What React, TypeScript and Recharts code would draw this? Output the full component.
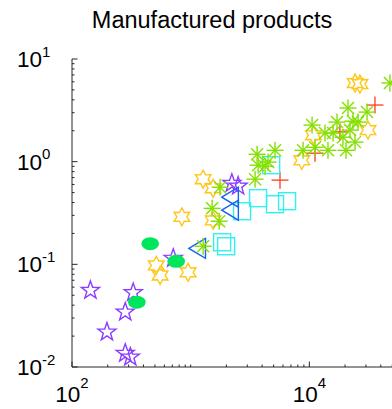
import React from "react";
import { ScatterChart, Scatter, XAxis, YAxis } from "recharts";

// ── Data (log-log) ──────────────────────────────────────────────────────────
const purpleX = [143, 328, 281, 197, 281, 310, 713, 2223, 2513];
const purpleY = [0.0557, 0.053, 0.0343, 0.0219, 0.0136, 0.0125, 0.1146, 0.616, 0.577];

const orangeX = [513, 553, 952, 843, 1273, 1546, 1546, 8630, 10820, 31200, 24300, 26700];
const orangeY = [0.0977, 0.078, 0.0836, 0.29, 0.675, 0.551, 0.268, 1.03, 1.81, 2.03, 5.83, 5.7];

const ellipseX = [456, 352, 755];
const ellipseY = [0.159, 0.0428, 0.107];

const asteriskX = [
  1274, 1517, 1738, 1770, 3491, 3630, 3700, 4236, 5140, 4490, 8850, 10550, 11180,
  13550, 14360, 15850, 17110, 19220, 20370, 21170, 22020, 23340, 25730, 24270, 30630, 47760,
];
const asteriskY = [
  0.15, 0.351, 0.263, 0.564, 0.675, 1.18, 0.924, 0.904, 1.29, 0.99, 1.29, 2.27, 1.38,
  1.9, 1.29, 1.9, 2.43, 1.73, 1.29, 3.33, 2.03, 2.48, 2.43, 1.55, 3.04, 5.84,
];

const squareX = [1841, 1990, 2711, 3700, 5140, 6490, 4770];
const squareY = [0.164, 0.15, 0.329, 0.441, 0.385, 0.412, 0.924];

const triangleX = [1135, 2148, 2148];
const triangleY = [0.143, 0.451, 0.337];

const plusX = [35740, 5660, 18100, 11170];
const plusY = [3.56, 0.661, 1.95, 1.21];

// tick positions
const xDecades = [100, 1000, 10000];
const yDecades = [0.01, 0.1, 1];
const minorSteps = [1, 2, 3, 4, 5, 6, 7, 8, 9];
const xMajor = [100, 10000];
const yMajor = [0.01, 0.1, 1, 10];

const xTicks = [...xDecades.flatMap((d) => minorSteps.map((m) => m * d)), 100000];
const yTicks = [...yDecades.flatMap((d) => minorSteps.map((m) => m * d)), 10];

const pts = (xs: number[], ys: number[]) => xs.map((x, i) => ({ x, y: ys[i] }));

// ── Styling ─────────────────────────────────────────────────────────────────
const FONT = '"Liberation Sans", Arial, Helvetica, sans-serif';
const AXIS = "#262626";
const PURPLE = "#8c3cff";
const ORANGE = "#ffc61a";
const LIME = "#84e000";
const GREEN = "#00e65c";
const CYAN = "#33f0f0";
const BLUE = "#1464f0";
const RED = "#ff3b1f";

const isMajor = (v: number, list: number[]) =>
  list.some((m) => Math.abs(v / m - 1) < 1e-6);

function starPoints(cx: number, cy: number, n: number, rOut: number, rIn: number) {
  const out: string[] = [];
  for (let i = 0; i < 2 * n; i++) {
    const r = i % 2 === 0 ? rOut : rIn;
    const a = ((-90 + (i * 180) / n) * Math.PI) / 180;
    out.push(`${cx + r * Math.cos(a)},${cy + r * Math.sin(a)}`);
  }
  return out.join(" ");
}

const Pentagram = ({ cx, cy }: any) => (
  <polygon points={starPoints(cx, cy, 5, 9.5, 3.8)} fill="none" stroke={PURPLE} strokeWidth={1.4} />
);
const Hexagram = ({ cx, cy }: any) => (
  <polygon points={starPoints(cx, cy, 6, 9, 5)} fill="none" stroke={ORANGE} strokeWidth={1.4} />
);
const Blob = ({ cx, cy }: any) => <ellipse cx={cx} cy={cy} rx={8.8} ry={6.5} fill={GREEN} />;
const Asterisk = ({ cx, cy }: any) => (
  <g stroke={LIME} strokeWidth={1.4}>
    <line x1={cx - 8.5} x2={cx + 8.5} y1={cy} y2={cy} />
    <line x1={cx} x2={cx} y1={cy - 8.5} y2={cy + 8.5} />
    <line x1={cx - 6} x2={cx + 6} y1={cy - 6} y2={cy + 6} />
    <line x1={cx - 6} x2={cx + 6} y1={cy + 6} y2={cy - 6} />
  </g>
);
const Square = ({ cx, cy }: any) => (
  <rect x={cx - 8.5} y={cy - 8.5} width={17} height={17} fill="none" stroke={CYAN} strokeWidth={1.4} />
);
const Triangle = ({ cx, cy }: any) => (
  <polygon
    points={`${cx - 8.3},${cy} ${cx + 8.3},${cy - 10} ${cx + 8.3},${cy + 10}`}
    fill="none"
    stroke={BLUE}
    strokeWidth={1.4}
  />
);
const Plus = ({ cx, cy }: any) => (
  <g stroke={RED} strokeWidth={1.3}>
    <line x1={cx - 8.5} x2={cx + 8.5} y1={cy} y2={cy} />
    <line x1={cx} x2={cx} y1={cy - 8.5} y2={cy + 8.5} />
  </g>
);

function XTick(props: any) {
  const { x, y, payload } = props;
  const v = payload.value;
  const major = isMajor(v, xMajor);
  return (
    <g>
      <line x1={x} x2={x} y1={y} y2={y - (major ? 5.5 : 2.5)} stroke={AXIS} />
      {major && (
        <text x={x} y={y + 35} textAnchor="middle" fontFamily={FONT} fontSize={22.5} fill="#000">
          10
          <tspan dy={-14.5} fontSize={15}>
            {Math.round(Math.log10(v))}
          </tspan>
        </text>
      )}
    </g>
  );
}

function YTick(props: any) {
  const { x, y, payload } = props;
  const v = payload.value;
  const major = isMajor(v, yMajor);
  return (
    <g>
      <line x1={x} x2={x + (major ? 5.5 : 2.5)} y1={y} y2={y} stroke={AXIS} />
      {major && (
        <text x={x - 55} y={y + 8} textAnchor="start" fontFamily={FONT} fontSize={22.5} fill="#000">
          10
          <tspan dy={-10.5} fontSize={15}>
            {Math.round(Math.log10(v))}
          </tspan>
        </text>
      )}
    </g>
  );
}

export default function App() {
  return (
    <div
      style={{
        position: "absolute",
        left: 0,
        top: 0,
        width: 392,
        height: 409,
        overflow: "hidden",
        background: "#fff",
      }}
    >
      <ScatterChart width={428} height={409} margin={{ top: 59, right: 0, bottom: 0, left: 0 }}>
        <XAxis
          dataKey="x"
          type="number"
          scale="log"
          domain={[100, 100000]}
          allowDataOverflow
          ticks={xTicks}
          interval={0}
          height={42}
          tickSize={0}
          tickMargin={0}
          tickLine={false}
          axisLine={{ stroke: AXIS }}
          tick={(p: any) => <XTick {...p} />}
        />
        <YAxis
          dataKey="y"
          type="number"
          scale="log"
          domain={[0.01, 10]}
          allowDataOverflow
          ticks={yTicks}
          interval={0}
          width={72}
          tickSize={0}
          tickMargin={0}
          tickLine={false}
          axisLine={{ stroke: AXIS }}
          tick={(p: any) => <YTick {...p} />}
        />
        <Scatter data={pts(purpleX, purpleY)} shape={(p: any) => <Pentagram {...p} />} isAnimationActive={false} />
        <Scatter data={pts(orangeX, orangeY)} shape={(p: any) => <Hexagram {...p} />} isAnimationActive={false} />
        <Scatter data={pts(plusX, plusY)} shape={(p: any) => <Plus {...p} />} isAnimationActive={false} />
        <Scatter data={pts(ellipseX, ellipseY)} shape={(p: any) => <Blob {...p} />} isAnimationActive={false} />
        <Scatter data={pts(squareX, squareY)} shape={(p: any) => <Square {...p} />} isAnimationActive={false} />
        <Scatter data={pts(triangleX, triangleY)} shape={(p: any) => <Triangle {...p} />} isAnimationActive={false} />
        <Scatter data={pts(asteriskX, asteriskY)} shape={(p: any) => <Asterisk {...p} />} isAnimationActive={false} />
      </ScatterChart>
      <svg
        width={392}
        height={409}
        style={{ position: "absolute", left: 0, top: 0, pointerEvents: "none" }}
      >
        <text x={212} y={28} textAnchor="middle" fontFamily={FONT} fontSize={23.5} fill="#000">
          Manufactured products
        </text>
      </svg>
    </div>
  );
}
